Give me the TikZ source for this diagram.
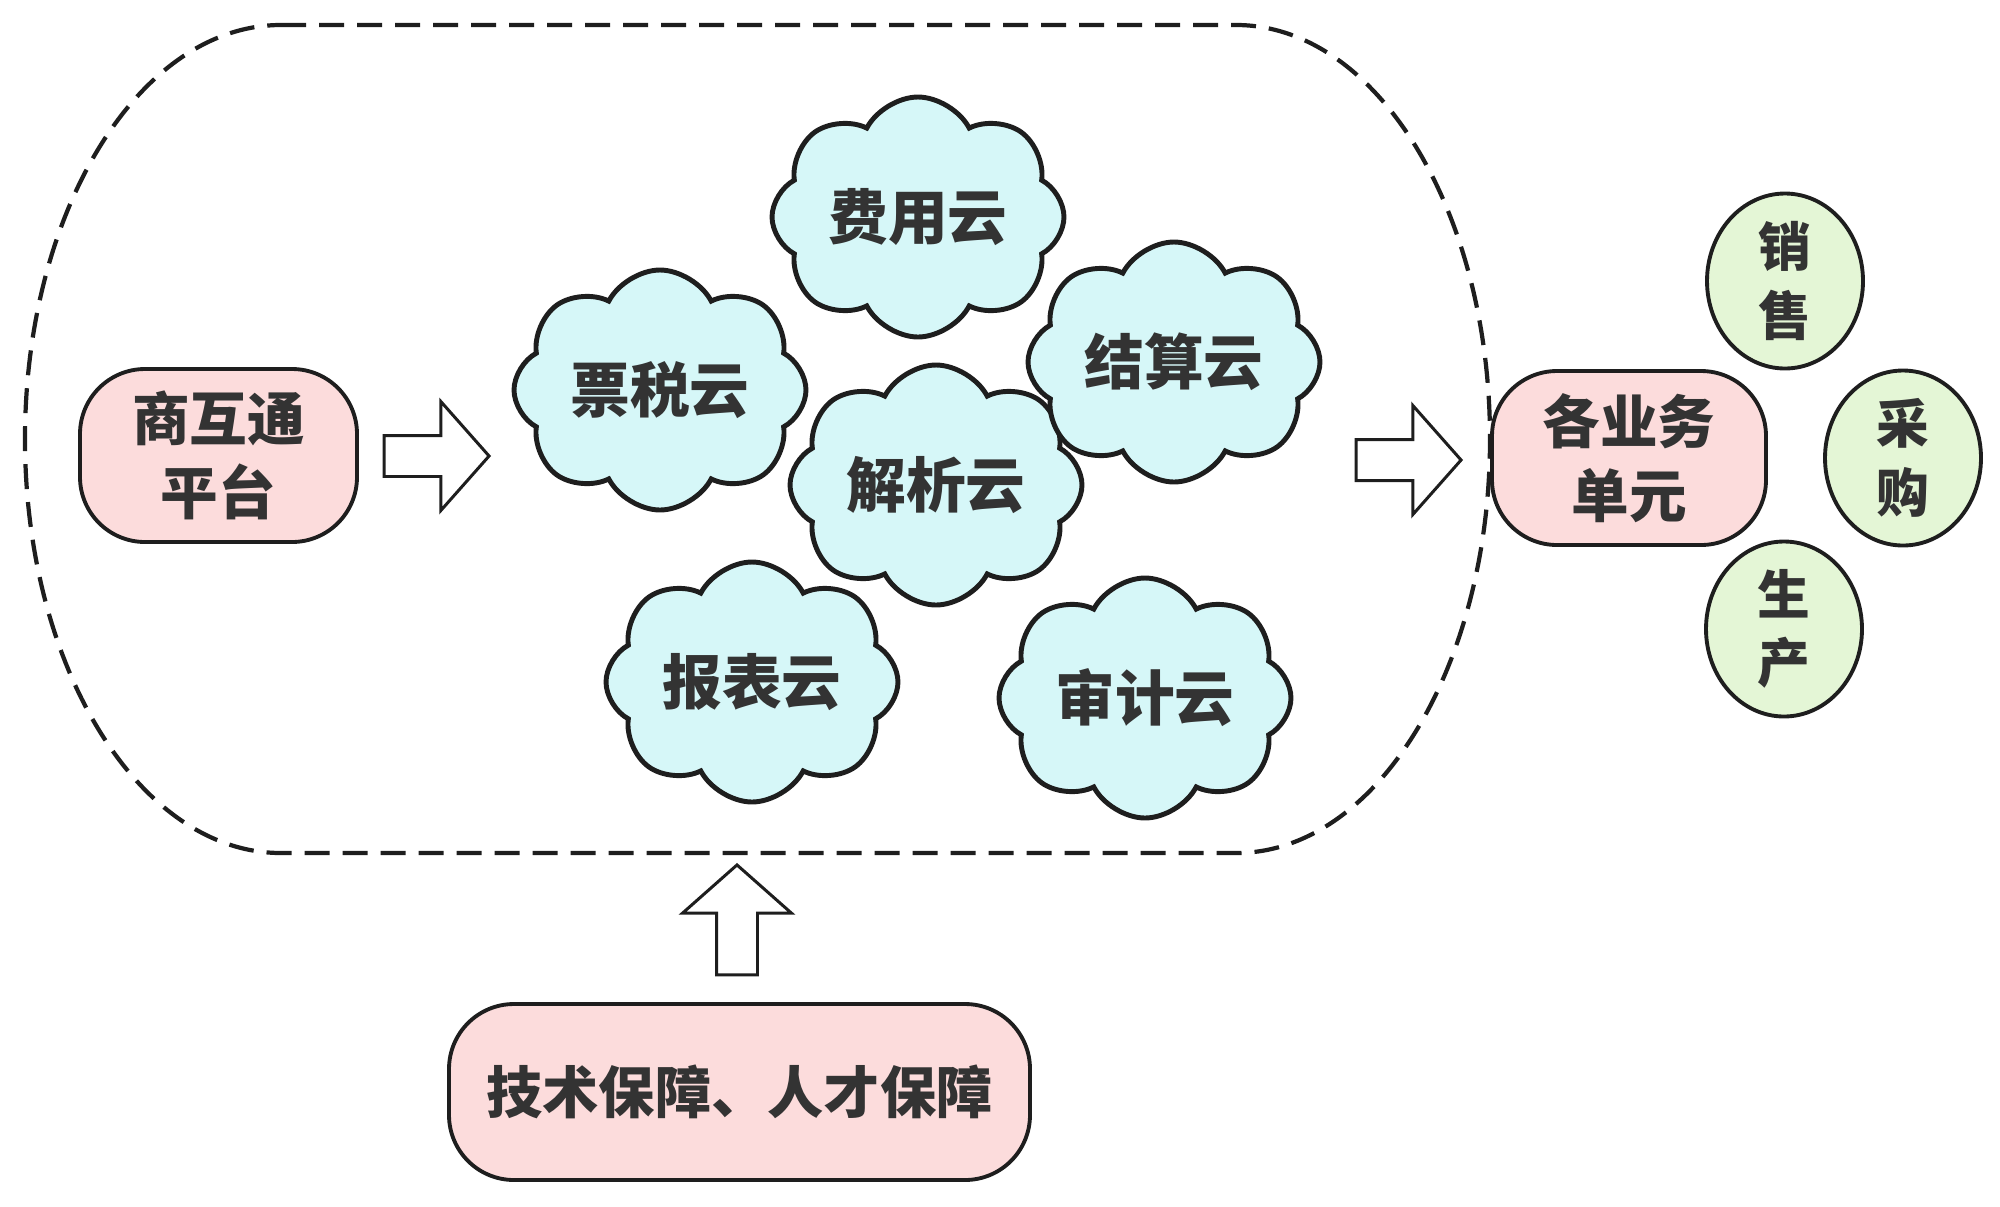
\documentclass[tikz,border=0pt]{standalone}
\usepackage{fontspec}
\setmainfont{Noto Sans CJK SC}
\usetikzlibrary{shapes.symbols,shapes.geometric,shapes.arrows}
\definecolor{linie}{HTML}{1E1E1E}
\definecolor{schrift}{HTML}{333333}
\definecolor{rosa}{HTML}{FCDCDC}
\definecolor{tuerkis}{HTML}{D6F7F8}
\definecolor{gruen}{HTML}{E4F6D6}
\begin{document}
\begin{tikzpicture}[
	wolke/.style={cloud, cloud puffs=8, cloud puff arc=125, cloud ignores aspect,
	draw=linie, fill=tuerkis, line width=1.4pt, minimum width=2.92cm,
	minimum height=2.4cm, inner sep=0pt,
	text=schrift, font=\fontsize{17}{20}\selectfont\bfseries},
	kasten/.style={draw=linie, fill=rosa, rounded corners=0.65cm, line width=1.1pt,
	align=center, text=schrift, font=\fontsize{16.4}{21}\selectfont\bfseries},
	kreis/.style={ellipse, draw=linie, fill=gruen, line width=1.1pt, inner sep=0pt,
	minimum width=1.56cm, minimum height=1.75cm, align=center, text=schrift,
	font=\fontsize{15}{19.5}\selectfont\bfseries},
	pfeil/.style={single arrow, draw=linie, fill=white, line width=0.85pt,
	inner sep=0.19cm, single arrow head extend=0.34cm, single arrow tip angle=97,
	minimum height=1.05cm, minimum width=1.06cm},
	rahmen/.style={draw=linie, line width=1.2pt, dash pattern=on 0.25cm off 0.13cm}]
\useasboundingbox (0,0) rectangle (20,-12.06);
%Rahmen zeichnen
\draw [rahmen] (2.81,-0.25) -- (12.36,-0.25)
	arc [start angle=90, end angle=-90, x radius=2.54, y radius=4.14]
	-- (2.81,-8.53)
	arc [start angle=270, end angle=90, x radius=2.56, y radius=4.14] -- cycle;
%Wolken einzeichnen:
\foreach \n/\x/\y/\r/\t in {feiyong/9.18/-2.17/8/费用云, piaoshui/6.60/-3.90/-6/票税云,
	baobiao/7.52/-6.82/4/报表云, shenji/11.45/-6.98/-10/审计云,
	jiexi/9.36/-4.85/12/解析云, jiesuan/11.74/-3.62/-4/结算云}
\node [wolke, shape border rotate=\r, name=\n] at (\x,\y) {\t};
%Kaesten
\node [kasten, minimum width=2.77cm, minimum height=1.73cm, name=plattform] at (2.185,-4.555) {商互通\\平台};
\node [kasten, minimum width=2.74cm, minimum height=1.74cm, name=einheiten] at (16.29,-4.58) {各业务\\单元};
\node [kasten, minimum width=5.81cm, minimum height=1.76cm, font=\fontsize{16}{19}\selectfont\bfseries,
	name=sicherung] at (7.395,-10.92) {技术保障、人才保障};
%Geschaeftsbereiche
\foreach \n/\x/\y/\t in {xiaoshou/17.85/-2.81/销\\售, caigou/19.03/-4.58/采\\购,
	shengchan/17.84/-6.29/生\\产}
\node [kreis, name=\n] at (\x,\y) {\t};
%Pfeile
\node [pfeil, name=pfeilA] at (4.275,-4.56) {};
\node [pfeil, name=pfeilB] at (13.995,-4.60) {};
\node [pfeil, rotate=90, minimum height=1.10cm, minimum width=1.01cm, name=pfeilC] at (7.37,-9.29) {};
\end{tikzpicture}
\end{document}
